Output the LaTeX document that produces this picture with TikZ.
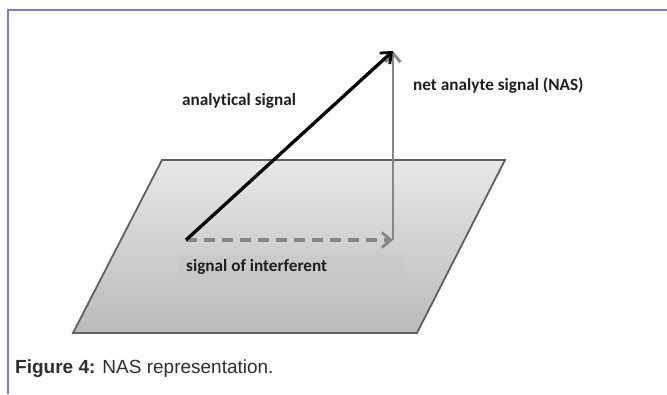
\documentclass[tikz,border=0pt]{standalone}
\usepackage{fontspec}
\setmainfont{Liberation Sans}
\newfontfamily\labelfont[Ligatures=NoCommon]{Carlito}
\usetikzlibrary{arrows.meta}
\definecolor{framec}{RGB}{140,115,195}
\definecolor{planetop}{RGB}{232,232,232}
\definecolor{planebot}{RGB}{186,186,186}
\definecolor{planeedge}{RGB}{95,95,95}
\definecolor{arrgray}{RGB}{135,135,135}
\definecolor{boxgray}{RGB}{200,200,200}
\tikzset{
  lbl/.style={font=\labelfont\bfseries\fontsize{17.2}{19}\selectfont, inner sep=0pt, text=black!88},
  vecarrow/.style={-{Straight Barb[length=9pt,width=15pt,line width=2.8pt]}},
}
\begin{document}
\begin{tikzpicture}[x=1pt,y=-1pt]
\useasboundingbox (0,0) rectangle (667,394);
\fill[white] (0,0) rectangle (667,394);
% frame
\draw[framec, line width=1.3pt] (8,394) -- (8,10) -- (667,10);
% plane
\coordinate (p1) at (162,160);
\coordinate (p2) at (505,160);
\coordinate (p3) at (417,333);
\coordinate (p4) at (73,333);
\shade[top color=planetop, bottom color=planebot] (p1) -- (p2) -- (p3) -- (p4) -- cycle;
\draw[planeedge, line width=1.8pt, line join=miter] (p1) -- (p2) -- (p3) -- (p4) -- cycle;
% label box
\fill[boxgray, opacity=0.55] (178,253) rectangle (403,280);
% vectors
\coordinate (o) at (186,240);
\coordinate (t) at (393,51);
\coordinate (b) at (393,240);
\draw[arrgray, line width=2.2pt, vecarrow] (b) -- (t);
\draw[arrgray, line width=3.2pt, dash pattern=on 11pt off 7pt, vecarrow] (o) -- (b);
\draw[black, line width=3.3pt, vecarrow] (o) -- (t);
% labels
\node[lbl, anchor=west] (la) at (182,101) {analytical signal};
\node[lbl, anchor=west] (ln) at (413,86) {net analyte signal (NAS)};
\node[lbl, anchor=west] (li) at (186,267) {signal of interferent};
% caption
\node[anchor=west, inner sep=0pt, font=\fontsize{19}{22}\selectfont, text=black!82] (cap) at (15,369) {\textbf{Figure 4:} NAS representation.};
\end{tikzpicture}
\end{document}
